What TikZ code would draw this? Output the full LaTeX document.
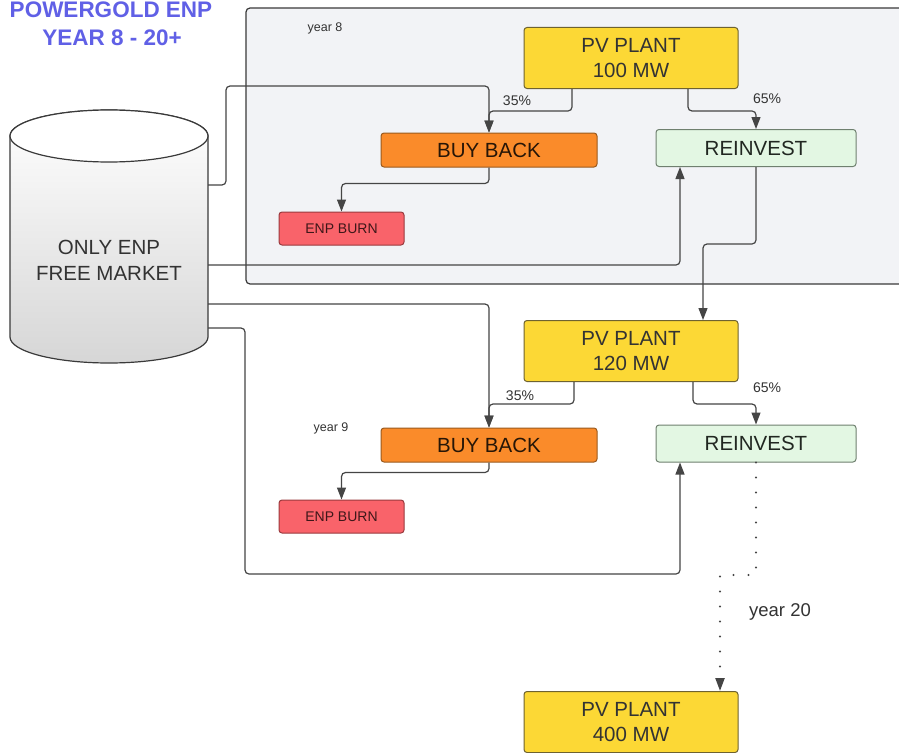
\documentclass[tikz,border=0pt]{standalone}
\usepackage{fontspec}
\setmainfont{Liberation Sans}
\usetikzlibrary{arrows.meta,calc}
\definecolor{titleblue}{HTML}{6060E6}
\definecolor{panelfill}{HTML}{F2F3F6}
\definecolor{panelline}{HTML}{3A3A3A}
\definecolor{pvfill}{HTML}{FCD835}
\definecolor{pvline}{HTML}{6E6230}
\definecolor{bbfill}{HTML}{FA8B2A}
\definecolor{bbline}{HTML}{9A5A1E}
\definecolor{refill}{HTML}{E3F7E3}
\definecolor{reline}{HTML}{6F806F}
\definecolor{ebfill}{HTML}{F9636A}
\definecolor{ebline}{HTML}{9A3A3E}
\definecolor{txt}{HTML}{333333}
\definecolor{conncol}{HTML}{454545}
\begin{document}
\begin{tikzpicture}[x=1pt,y=1pt,
  box/.style={draw, rounded corners=3, line width=1, inner sep=0, align=center, text=txt},
  pvbox/.style={box, fill=pvfill, draw=pvline, minimum width=214, minimum height=61, font=\fontsize{20.5}{25}\selectfont},
  bbbox/.style={box, fill=bbfill, draw=bbline, minimum width=216, minimum height=34, font=\fontsize{20.5}{24}\selectfont, text=black!75!bbline},
  rebox/.style={box, fill=refill, draw=reline, minimum width=200, minimum height=37, font=\fontsize{20.5}{24}\selectfont, text=black!70!reline},
  ebbox/.style={box, fill=ebfill, draw=ebline, minimum width=125, minimum height=33, font=\fontsize{14}{16}\selectfont, text=black!60!ebline},
  conn/.style={draw=conncol, line width=1.2, rounded corners=4, -{Triangle[width=9,length=12]}},
  lbl/.style={font=\fontsize{14}{16}\selectfont, text=txt, inner sep=0},
  small/.style={font=\fontsize{12.5}{14}\selectfont, text=txt, inner sep=0},
  ttl/.style={font=\fontsize{22.5}{26}\selectfont\bfseries, text=titleblue, inner sep=0, anchor=base}
]
\useasboundingbox (0,0) rectangle (899,-752);
\fill[white] (0,0) rectangle (899,-752);
% panel year 8
\draw[fill=panelfill, draw=panelline, line width=1.2, rounded corners=4] (246,-8) rectangle (910,-284);
% title
\node[ttl] (title1) at (111,-18) {POWERGOLD ENP};
\node[ttl] (title2) at (112,-45.5) {YEAR 8 - 20+};
% cylinder
\shade[top color=white, bottom color=black!16, draw=panelline, line width=1.2]
  (10,-136) -- (10,-337) arc (180:360:99 and 26) -- (208,-136) arc (0:180:99 and 26) -- cycle;
\draw[fill=white, draw=panelline, line width=1.2] (109,-136) ellipse (99 and 26);
\node[minimum width=198, inner sep=0, align=center, text=txt, font=\fontsize{20.5}{26}\selectfont] (cyl) at (109,-260) {ONLY ENP\\FREE MARKET};
% labels
\node[small] (y8) at (325,-28) {year 8};
\node[small] (y9) at (331,-428) {year 9};
% nodes
\node[pvbox] (pv1) at (631,-58) {PV PLANT\\100 MW};
\node[bbbox] (bb1) at (489,-150) {BUY BACK};
\node[rebox] (re1) at (756,-148) {REINVEST};
\node[ebbox] (eb1) at (341.5,-228.5) {ENP BURN};
\node[pvbox] (pv2) at (631,-351) {PV PLANT\\120 MW};
\node[bbbox] (bb2) at (489,-445) {BUY BACK};
\node[rebox] (re2) at (756,-443.5) {REINVEST};
\node[ebbox] (eb2) at (341.5,-516.5) {ENP BURN};
\node[pvbox] (pv3) at (631,-722) {PV PLANT\\400 MW};
% connectors top
\draw[conn] ([yshift=75]cyl.east) -| (226,-86) -| (bb1.north);
\draw[conn] ([xshift=-59]pv1.south) -- ++(0,-22) -| (bb1.north);
\draw[conn] ([xshift=57]pv1.south) -- ++(0,-22) -| (re1.north);
\draw[conn] (bb1.south) -- ++(0,-16) -| (eb1.north);
\draw[conn] ([yshift=-5]cyl.east) -| ([xshift=-76]re1.south);
\draw[conn] (re1.south) -- ++(0,-77) -| ([xshift=72]pv2.north);
\node[lbl] (p35a) at (517,-101) {35\%};
\node[lbl] (p65a) at (767,-99) {65\%};
% connectors bottom
\draw[conn] ([yshift=-44]cyl.east) -| (bb2.north);
\draw[conn] ([xshift=-57]pv2.south) -- ++(0,-22) -| (bb2.north);
\draw[conn] ([xshift=62]pv2.south) -- ++(0,-22) -| (re2.north);
\draw[conn] (bb2.south) -- ++(0,-10) -| (eb2.north);
\draw[conn] ([yshift=-68]cyl.east) -| (245,-574) -| ([xshift=-76]re2.south);
\node[lbl] (p35b) at (520,-396) {35\%};
\node[lbl] (p65b) at (767,-388) {65\%};
% dotted to year 20
\draw[draw=conncol, line width=2.2, line cap=round, dash pattern=on 0pt off 15pt, -{Triangle[width=9,length=13]}]
  (re2.south) -- (756,-575) -- (720,-575) -- ([xshift=89]pv3.north);
\node[font=\fontsize{18.5}{20}\selectfont, text=txt, inner sep=0] (y20) at (780,-612) {year 20};
\end{tikzpicture}
\end{document}
